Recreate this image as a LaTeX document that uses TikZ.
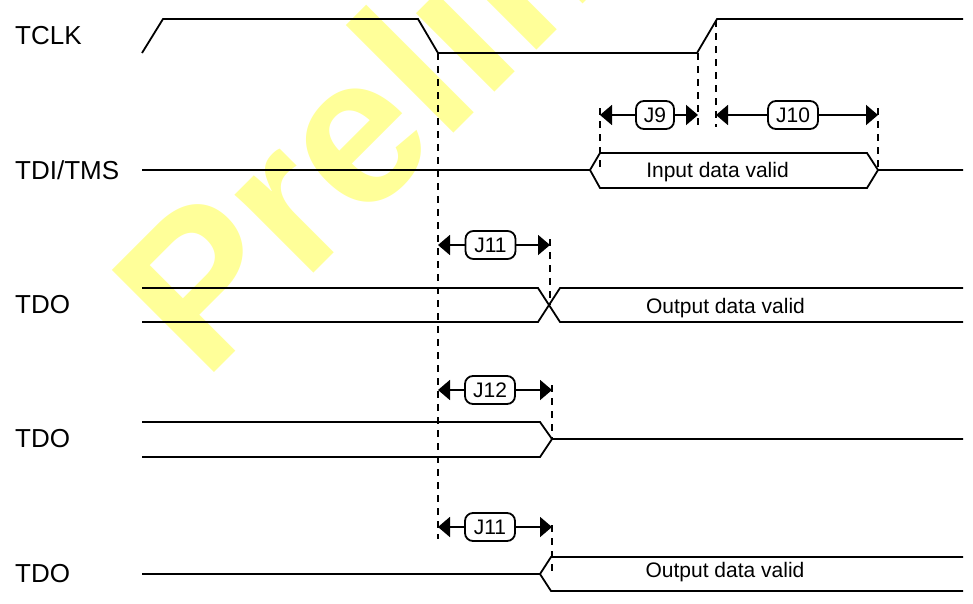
\documentclass[tikz,border=0pt]{standalone}
\usepackage{fontspec}
\setmainfont{Liberation Sans}
\usepackage{xcolor}
\usetikzlibrary{arrows.meta}
\definecolor{markyellow}{HTML}{FFFF99}
\tikzset{
  sig/.style={line width=1.8pt, line join=miter},
  guide/.style={line width=2pt, dash pattern=on 7pt off 6pt},
  dimline/.style={line width=1.8pt, -{Triangle[length=12pt,width=20pt]}},
  tagbox/.style={draw, line width=1.8pt, rounded corners=8pt, inner sep=0pt, minimum height=28pt, font=\fontsize{21}{24}\selectfont},
  signame/.style={anchor=west, inner sep=0pt, font=\fontsize{26}{30}\selectfont},
  info/.style={inner sep=0pt, font=\fontsize{21}{24}\selectfont},
}
\begin{document}
\begin{tikzpicture}[x=1pt,y=-1pt]
\clip (0,0) rectangle (973,603);
\fill [white] (0,0) rectangle (973,603);

\node (mark) [anchor=base west, inner sep=0pt, rotate=45, text=markyellow, font=\fontsize{210}{210}\selectfont\bfseries] at (204,383) {Preliminary};

\node (tclk) [signame] at (15,36) {TCLK};
\node (tdi) [signame] at (15,170) {TDI/TMS};
\node (tdoa) [signame] at (15,305) {TDO};
\node (tdob) [signame] at (15,439) {TDO};
\node (tdoc) [signame] at (15,574) {TDO};

\draw [sig] (142,53) -- (163,19) -- (418,19) -- (438,53) -- (697,53) -- (717,19) -- (963,19);

\draw [sig] (142,170) -- (590,170) -- (600,153) -- (867,153) -- (878,170) -- (963,170);
\draw [sig] (590,170) -- (600,188) -- (867,188) -- (878,170);
\node (indata) [info] at (717.5,172) {Input data valid};

\draw [sig] (142,288) -- (538,288) -- (560,322) -- (963,322);
\draw [sig] (142,322) -- (538,322) -- (560,288) -- (963,288);
\node (outa) [info] at (725.5,308) {Output data valid};

\draw [sig] (142,422) -- (540,422) -- (552,439) -- (963,439);
\draw [sig] (142,457) -- (540,457) -- (552,439);

\draw [sig] (142,574) -- (540,574) -- (551,557) -- (963,557);
\draw [sig] (540,574) -- (551,591) -- (963,591);
\node (outb) [info] at (725,572) {Output data valid};

\coordinate (fall) at (438,53);
\coordinate (fallend) at (438,539);
\coordinate (risea) at (698,53);
\coordinate (riseaend) at (698,127);
\coordinate (riseb) at (716,20);
\coordinate (risebend) at (716,127);
\coordinate (ina) at (600,108);
\coordinate (inaend) at (600,167);
\coordinate (inb) at (878,108);
\coordinate (inbend) at (878,168);
\coordinate (xa) at (550,239);
\coordinate (xaend) at (550,305);
\coordinate (xb) at (552,385);
\coordinate (xbend) at (552,439);
\coordinate (xc) at (552,525);
\coordinate (xcend) at (552,574);

\foreach \from/\to in {fall/fallend,risea/riseaend,riseb/risebend,ina/inaend,inb/inbend,xa/xaend,xb/xbend,xc/xcend}
  \draw [guide] (\from) -- (\to);

\node (jnine) [tagbox, minimum width=38pt] at (655,115) {J9};
\node (jten) [tagbox, minimum width=50pt] at (793,115) {J10};
\node (jelevena) [tagbox, minimum width=50pt] at (490.5,245) {J11};
\node (jtwelve) [tagbox, minimum width=50pt] at (490,390) {J12};
\node (jelevenb) [tagbox, minimum width=50pt] at (490,527) {J11};

\coordinate (nl) at (600,115);
\coordinate (nr) at (698,115);
\coordinate (tl) at (716,115);
\coordinate (tr) at (878,115);
\coordinate (al) at (438,245);
\coordinate (ar) at (550,245);
\coordinate (bl) at (438,390);
\coordinate (br) at (552,390);
\coordinate (cl) at (438,527);
\coordinate (cr) at (552,527);

\draw [dimline] (jnine) -- (nl);
\draw [dimline] (jnine) -- (nr);
\draw [dimline] (jten) -- (tl);
\draw [dimline] (jten) -- (tr);
\draw [dimline] (jelevena) -- (al);
\draw [dimline] (jelevena) -- (ar);
\draw [dimline] (jtwelve) -- (bl);
\draw [dimline] (jtwelve) -- (br);
\draw [dimline] (jelevenb) -- (cl);
\draw [dimline] (jelevenb) -- (cr);
\end{tikzpicture}
\end{document}
